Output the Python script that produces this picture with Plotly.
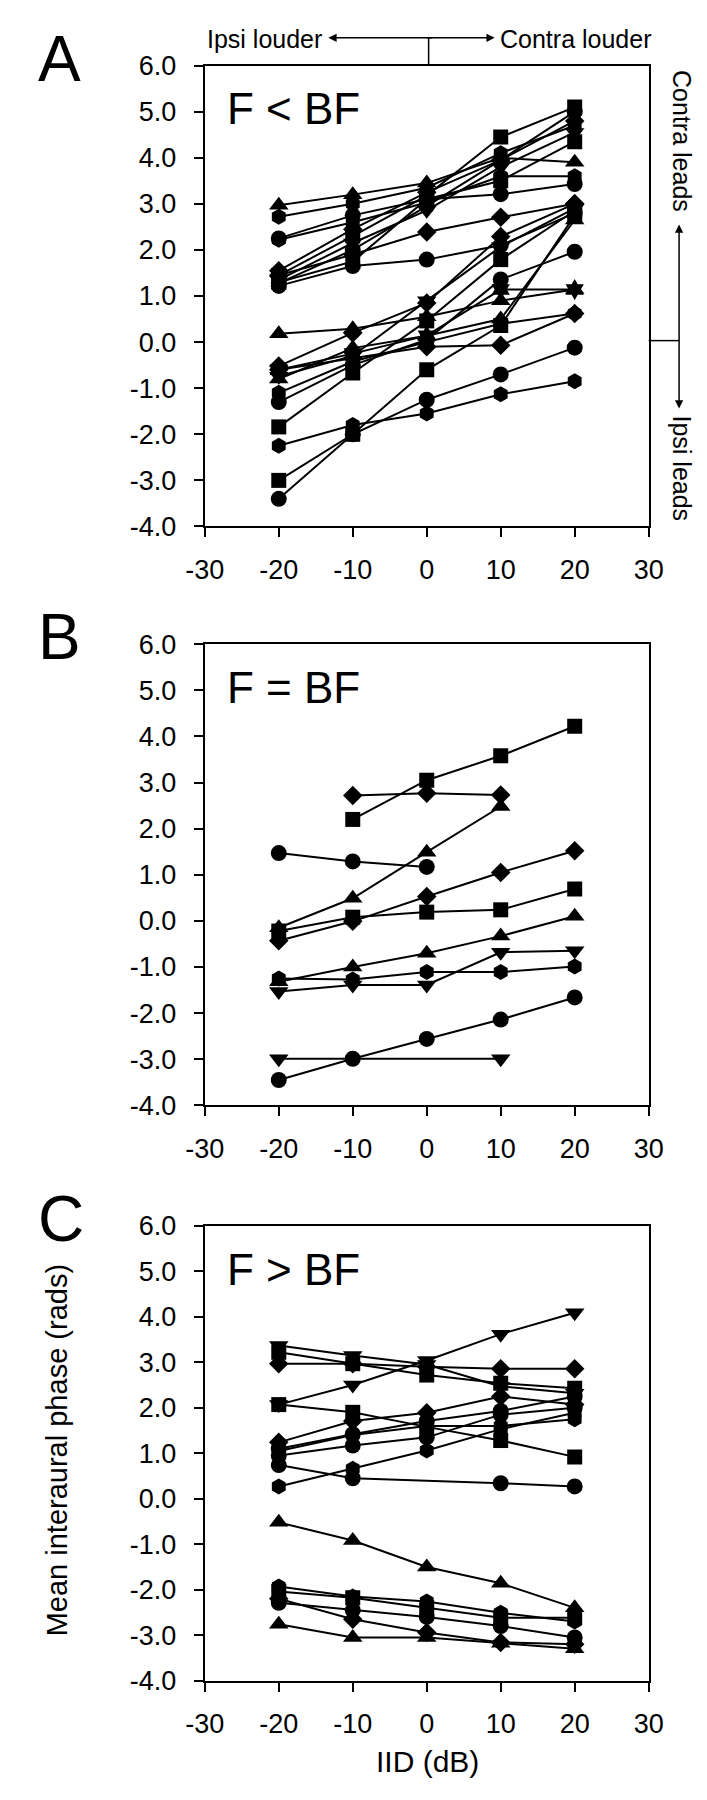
import plotly.graph_objects as go

IID = [-20, -10, 0, 10, 20]
X_TICKS = [-30, -20, -10, 0, 10, 20, 30]
Y_TICKS = [-4, -3, -2, -1, 0, 1, 2, 3, 4, 5, 6]

# Panel A: F < BF
A_Y = [
    [2.97, 3.20, 3.45, 4.00, 3.90],
    [2.72, 3.00, 3.35, 4.10, 4.70],
    [2.25, 2.75, 3.10, 3.21, 3.43],
    [2.22, 2.60, 3.03, 3.60, 3.60],
    [1.55, 2.45, 3.25, 3.95, 4.80],
    [1.45, 2.30, 3.18, 4.45, 5.10],
    [1.35, 2.15, 2.86, 3.80, 4.55],
    [1.28, 2.00, 2.95, 3.95, 5.00],
    [1.22, 1.65, 1.79, 2.10, 2.80],
    [1.45, 1.90, 2.39, 2.71, 3.00],
    [1.30, 1.75, 3.10, 3.50, 4.35],
    [0.18, 0.29, 0.55, 0.90, 1.14],
    [-0.60, -0.25, 0.14, 1.14, 1.14],
    [-0.74, -0.30, 0.90, 2.07, 2.90],
    [-0.52, 0.20, 0.85, 2.29, 3.00],
    [-0.60, -0.35, -0.10, -0.07, 0.62],
    [-0.80, -0.13, 0.14, 0.50, 2.65],
    [-1.84, -0.67, 0.46, 1.79, 2.85],
    [-1.30, -0.50, 0.05, 1.36, 1.96],
    [-1.10, -0.42, 0.00, 0.40, 0.62],
    [-3.00, -2.00, -0.60, 0.36, 2.75],
    [-3.40, -2.00, -1.25, -0.70, -0.12],
    [-2.25, -1.80, -1.55, -1.13, -0.85],
]
A_SYM = ["triangle-up", "hexagon", "circle", "hexagon", "diamond", "square",
         "triangle-down", "circle", "circle", "diamond", "square",
         "triangle-up", "hexagram", "triangle-down", "diamond", "diamond",
         "triangle-up", "square", "circle", "hexagon", "square", "circle", "hexagon"]

# Panel B: F = BF
B_Y = [
    [None, 2.20, 3.05, 3.58, 4.22],
    [None, 2.72, 2.77, 2.73, None],
    [-0.15, 0.49, 1.49, 2.48, None],
    [1.47, 1.29, 1.17, None, None],
    [-0.43, -0.01, 0.53, 1.05, 1.52],
    [-0.22, 0.08, 0.19, 0.24, 0.69],
    [-1.32, -1.00, -0.70, -0.33, 0.10],
    [-1.25, -1.27, -1.11, -1.11, -0.99],
    [-1.53, -1.39, -1.39, -0.68, -0.65],
    [-3.45, -2.99, -2.56, -2.14, -1.66],
    [-2.99, None, None, -2.99, None],
]
B_SYM = ["square", "diamond", "triangle-up", "circle", "diamond", "square",
         "triangle-up", "hexagon", "triangle-down", "circle", "triangle-down"]

# Panel C: F > BF
C_Y = [
    [2.07, 2.50, 3.04, 3.62, 4.09],
    [2.07, 1.90, 1.58, 1.28, 0.92],
    [2.97, 2.97, 2.90, 2.86, 2.86],
    [3.37, 3.15, 2.95, 2.47, 2.32],
    [3.22, 2.97, 2.72, 2.54, 2.43],
    [1.24, 1.71, 1.89, 2.25, 2.07],
    [1.10, 1.42, 1.71, 1.93, 2.25],
    [0.95, 1.17, 1.35, 1.85, 2.00],
    [1.05, 1.40, 1.60, 1.60, 1.75],
    [0.27, 0.66, 1.06, 1.53, 1.89],
    [0.74, 0.45, None, 0.34, 0.27],
    [-0.52, -0.92, -1.50, -1.86, -2.40],
    [-1.93, -2.15, -2.26, -2.51, -2.70],
    [-2.04, -2.18, -2.40, -2.62, -2.62],
    [-2.29, -2.45, -2.60, -2.80, -3.05],
    [-2.20, -2.65, -2.94, -3.16, -3.20],
    [-2.76, -3.05, -3.05, -3.18, -3.30],
]
C_SYM = ["triangle-down", "square", "diamond", "triangle-down", "square",
         "diamond", "circle", "circle", "hexagon", "hexagon", "circle",
         "triangle-up", "hexagon", "square", "circle", "diamond", "triangle-up"]

PANEL_TEXT = ["F < BF", "F = BF", "F > BF"]
PANEL_LETTERS = ["A", "B", "C"]

W, H = 707, 1800
def px(x):
    return x / W
def py(y):
    return 1 - y / H

XDOM = [px(186), px(653)]
YDOMS = [[py(512), py(43.3)], [py(1100.7), py(631.7)], [py(1685.7), py(1223.3)]]

SIZE = {"circle": 16, "square": 15, "diamond": 15, "triangle-up": 17,
        "triangle-down": 17, "hexagon": 16, "hexagram": 16}

FONT = "Liberation Sans, Arial, Helvetica"
TICKFONT = dict(family=FONT, size=27, color="black")

fig = go.Figure()
for i, (ys, syms) in enumerate([(A_Y, A_SYM), (B_Y, B_SYM), (C_Y, C_SYM)]):
    xa = "x" if i == 0 else f"x{i+1}"
    ya = "y" if i == 0 else f"y{i+1}"
    for yv, s in zip(ys, syms):
        fig.add_trace(go.Scatter(
            x=IID, y=yv, mode="lines+markers", xaxis=xa, yaxis=ya,
            connectgaps=True,
            line=dict(color="black", width=2),
            marker=dict(symbol=s, size=SIZE[s], color="black",
                        line=dict(width=0)),
            showlegend=False, hoverinfo="skip"))

axis_common = dict(showline=True, linecolor="black", linewidth=2, mirror=True,
                   ticks="outside", ticklen=9, tickwidth=2, tickcolor="black",
                   showgrid=False, zeroline=False, tickfont=TICKFONT)

for i in range(3):
    sfx = "" if i == 0 else str(i + 1)
    fig.update_layout(**{
        f"xaxis{sfx}": dict(axis_common, domain=XDOM, range=[-30, 30],
                            tickvals=X_TICKS, ticktext=[str(v) for v in X_TICKS],
                            anchor=f"y{sfx}", ticklabelstandoff=9),
        f"yaxis{sfx}": dict(axis_common, domain=YDOMS[i], range=[-4, 6],
                            tickvals=Y_TICKS, ticktext=[f"{v:.1f}" for v in Y_TICKS],
                            anchor=f"x{sfx}", ticklabelstandoff=12),
    })

annotations = []
shapes = []
for i in range(3):
    top = YDOMS[i][1]
    annotations.append(dict(text=PANEL_TEXT[i], xref="paper", yref="paper",
                            x=px(207), y=top - 44 / H, xanchor="left", yanchor="middle",
                            showarrow=False,
                            font=dict(family=FONT, size=44, color="black")))
    annotations.append(dict(text=PANEL_LETTERS[i], xref="paper", yref="paper",
                            x=px(8), y=top + 7 / H, xanchor="left", yanchor="middle",
                            showarrow=False,
                            font=dict(family=FONT, size=64, color="black")))

# top arrows (Ipsi louder / Contra louder)
LBL = dict(family=FONT, size=25, color="black")
annotations.append(dict(text="Ipsi louder", xref="paper", yref="paper", x=px(311), y=py(16),
                        xanchor="right", yanchor="middle", showarrow=False, font=LBL))
annotations.append(dict(text="Contra louder", xref="paper", yref="paper", x=px(495), y=py(16),
                        xanchor="left", yanchor="middle", showarrow=False, font=LBL))
for xe in (316, 491):
    annotations.append(dict(text="", xref="paper", yref="paper", x=px(xe), y=py(15),
                            axref="pixel", ayref="pixel", ax=(421.5 - xe), ay=0,
                            showarrow=True, arrowhead=2, arrowsize=1.1, arrowwidth=1.5,
                            arrowcolor="black"))
shapes.append(dict(type="line", xref="paper", yref="paper", x0=px(421.5), x1=px(421.5),
                   y0=py(15), y1=py(43.3), line=dict(color="black", width=1.5)))

# right side arrows (Contra leads / Ipsi leads)
shapes.append(dict(type="line", xref="paper", yref="paper", x0=px(653), x1=px(685),
                   y0=py(323), y1=py(323), line=dict(color="black", width=1.5)))
for ye in (205, 392):
    annotations.append(dict(text="", xref="paper", yref="paper", x=px(685), y=py(ye),
                            axref="pixel", ayref="pixel", ax=0, ay=(323 - ye),
                            showarrow=True, arrowhead=2, arrowsize=1.1, arrowwidth=1.5,
                            arrowcolor="black"))
annotations.append(dict(text="Contra leads", xref="paper", yref="paper", x=px(688), y=py(120),
                        xanchor="center", yanchor="middle", textangle=90, showarrow=False, font=LBL))
annotations.append(dict(text="Ipsi leads", xref="paper", yref="paper", x=px(688), y=py(453),
                        xanchor="center", yanchor="middle", textangle=90, showarrow=False, font=LBL))

# axis titles
annotations.append(dict(text="Mean interaural phase (rads)", xref="paper", yref="paper",
                        x=px(30), y=py(1452), xanchor="center", yanchor="middle", textangle=-90,
                        showarrow=False, font=dict(family=FONT, size=29, color="black")))
annotations.append(dict(text="IID (dB)", xref="paper", yref="paper",
                        x=px(420), y=py(1768), xanchor="center", yanchor="middle",
                        showarrow=False, font=dict(family=FONT, size=30, color="black")))

fig.update_layout(width=W, height=H, margin=dict(l=0, r=0, t=0, b=0),
                  paper_bgcolor="white", plot_bgcolor="white", showlegend=False,
                  annotations=annotations, shapes=shapes)

fig.write_html("out.html")
